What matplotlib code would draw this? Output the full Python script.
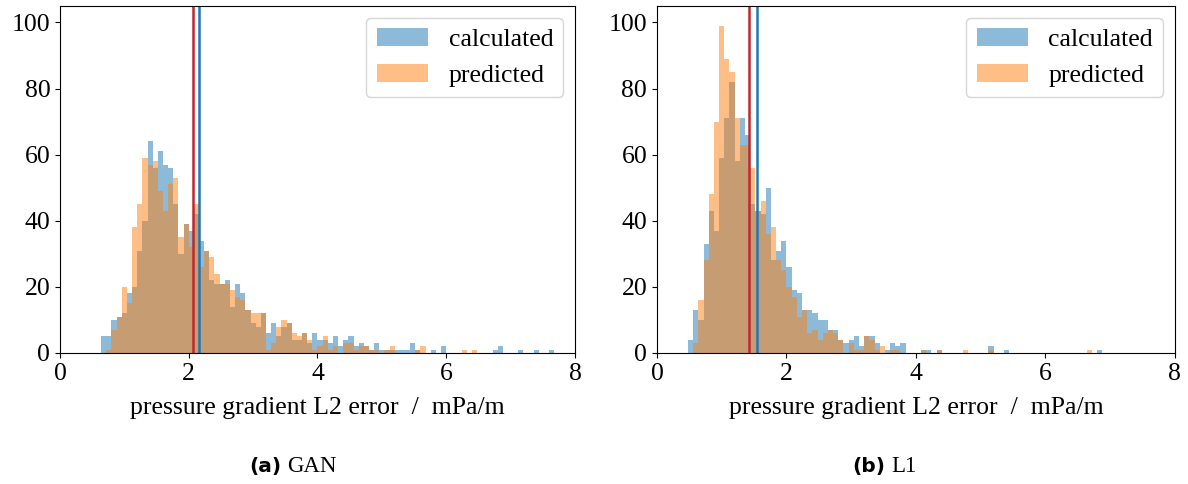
import numpy as np
from matplotlib import pyplot as plt

# %% Data (bin counts, bins of width 0.08 from 0 to 8) ----------------------------------------------------------------
bin_width = 0.08
n_bins = 100

# GAN, first bin index 8
gan_start = 8
gan_calculated = [5, 5, 10, 11, 12, 18, 20, 31, 40, 64, 56, 61, 57, 56, 45, 30, 39, 37, 42, 34, 31, 22, 21, 21, 22,
                  14, 21, 18, 13, 9, 8, 12, 6, 9, 5, 8, 9, 4, 4, 6, 3, 6, 4, 4, 3, 5, 2, 4, 5, 2, 3, 2, 1, 3, 1, 1,
                  1, 1, 1, 1, 3, 1, 0, 0, 1, 0, 2, 0, 0, 0, 0, 0, 0, 0, 0, 0, 1, 2, 0, 0, 0, 1, 0, 0, 1, 0, 0, 1]
gan_predicted = [0, 1, 7, 11, 20, 15, 38, 45, 59, 57, 58, 49, 43, 51, 53, 35, 39, 32, 45, 26, 31, 29, 24, 21, 21,
                 19, 17, 16, 13, 12, 12, 12, 1, 3, 8, 10, 9, 6, 5, 6, 4, 1, 2, 5, 1, 2, 0, 3, 3, 1, 2, 2, 1, 1, 0, 1,
                 2, 0, 0, 0, 0, 1, 2, 0, 0, 0, 0, 0, 0, 0, 1, 0, 1]
gan_mean_calculated = 2.155
gan_mean_predicted = 2.06

# L1, first bin index 6
l1_start = 6
l1_calculated = [4, 13, 10, 33, 43, 37, 59, 71, 82, 58, 71, 66, 45, 43, 42, 50, 28, 31, 34, 26, 19, 18, 13, 13, 12,
                 10, 10, 7, 7, 4, 3, 4, 5, 2, 5, 5, 3, 0, 1, 3, 2, 3, 0, 0, 0, 1, 1, 0, 1, 0, 0, 0, 0, 0, 0, 0, 0,
                 0, 2, 0, 0, 1, 0, 0, 0, 0, 0, 0, 0, 0, 0, 0, 0, 0, 0, 0, 0, 0, 0, 1]
l1_predicted = [0, 3, 16, 28, 48, 70, 99, 89, 85, 71, 63, 63, 56, 43, 46, 36, 38, 28, 25, 20, 17, 11, 13, 6, 7, 4,
                6, 7, 6, 4, 0, 3, 1, 1, 5, 4, 1, 2, 0, 1, 1, 0, 0, 0, 0, 1, 0, 0, 1, 0, 0, 0, 0, 1, 0, 0, 0, 0, 1,
                0, 0, 0, 0, 0, 0, 0, 0, 0, 0, 0, 0, 0, 0, 0, 0, 0, 0, 1]
l1_mean_calculated = 1.545
l1_mean_predicted = 1.425

captions = [("(a)", "GAN"), ("(b)", "L1")]
x_label = "pressure gradient L2 error  /  mPa/m"

# %% Plot --------------------------------------------------------------------------------------------------------------
plt.rcParams['font.family'] = ['Liberation Serif', 'DejaVu Serif']
plt.rcParams['font.size'] = 18.5

edges = np.arange(n_bins + 1) * bin_width
centers = edges[:-1] + bin_width / 2


def full_counts(start, values):
    counts = np.zeros(n_bins)
    counts[start:start + len(values)] = values
    return counts


fig = plt.figure(figsize=(11.88, 4.84), dpi=100)
ax_left = fig.add_axes([0.0505, 0.2707, 0.4335, 0.717])
ax_right = fig.add_axes([0.553, 0.2707, 0.436, 0.717])

panels = [
    (ax_left, gan_start, gan_calculated, gan_predicted, gan_mean_calculated, gan_mean_predicted),
    (ax_right, l1_start, l1_calculated, l1_predicted, l1_mean_calculated, l1_mean_predicted),
]

for ax, start, calc, pred, m_calc, m_pred in panels:
    ax.hist(centers, bins=edges, weights=full_counts(start, calc), alpha=0.5, color="C0", label="calculated")
    ax.hist(centers, bins=edges, weights=full_counts(start, pred), alpha=0.5, color="C1", label="predicted")
    ax.axvline(m_calc, color="#1f77b4", lw=1.8)
    ax.axvline(m_pred, color="#c0272d", lw=1.8)
    ax.set_xlim(0, 8)
    ax.set_ylim(0, 105)
    ax.set_xticks([0, 2, 4, 6, 8])
    ax.set_yticks([0, 20, 40, 60, 80, 100])
    ax.set_xlabel(x_label, labelpad=9)
    ax.legend(loc="upper right", borderaxespad=0.45)

for (tag, name), xc in zip(captions, [0.24, 0.748]):
    fig.text(xc - 0.003, 0.025, tag, ha="right", va="baseline", fontsize=14.5, fontweight="bold",
             family=["DejaVu Sans"])
    fig.text(xc + 0.002, 0.025, name, ha="left", va="baseline", fontsize=16.5)

fig.savefig("out.png", dpi=100)
